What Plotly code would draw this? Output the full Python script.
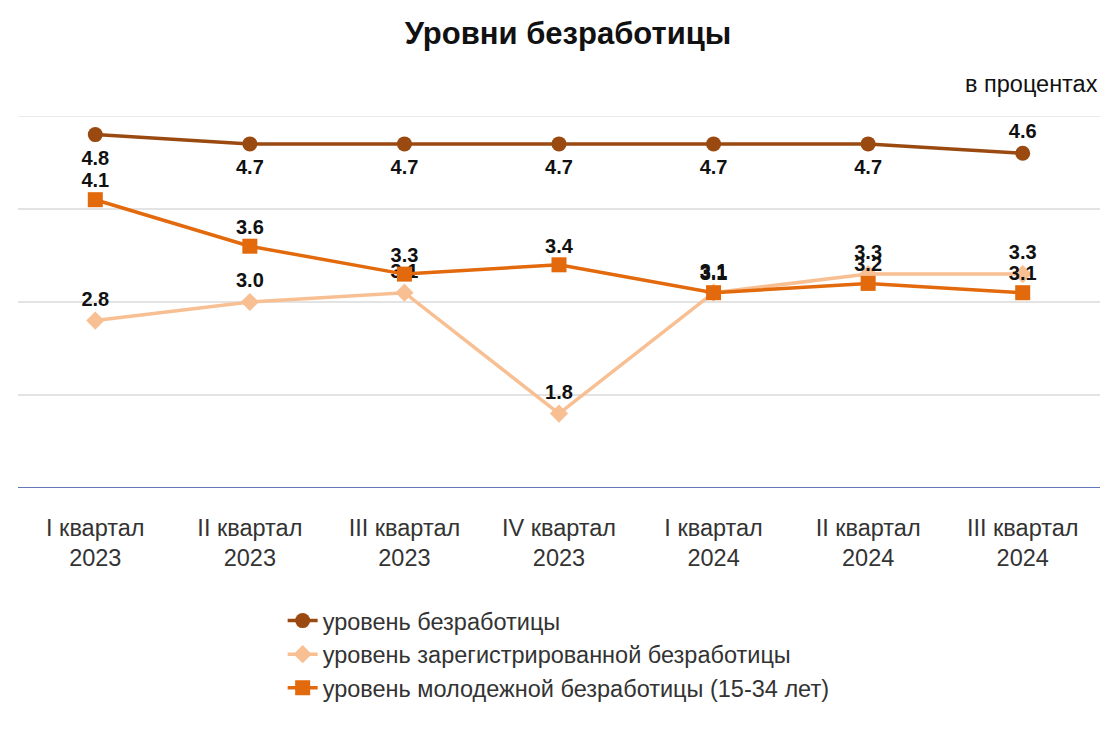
import plotly.graph_objects as go

# Data
quarters = ["I квартал<br>2023", "II квартал<br>2023", "III квартал<br>2023", "IV квартал<br>2023",
            "I квартал<br>2024", "II квартал<br>2024", "III квартал<br>2024"]
unemployment = [4.8, 4.7, 4.7, 4.7, 4.7, 4.7, 4.6]
registered = [2.8, 3.0, 3.1, 1.8, 3.1, 3.3, 3.3]
youth = [4.1, 3.6, 3.3, 3.4, 3.1, 3.2, 3.1]

unemp_pos = ["bottom center"] * 6 + ["top center"]
label_font = dict(family="Liberation Sans, Arial", size=20, color="#111111")

fig = go.Figure()

# Registered unemployment (drawn first, underneath)
fig.add_trace(go.Scatter(
    x=quarters, y=registered, name="уровень зарегистрированной безработицы",
    mode="lines+markers+text", legendrank=2,
    line=dict(color="#F8BF93", width=3.5),
    marker=dict(symbol="diamond", size=14, color="#F8BF93"),
    text=[f"<b>{v:.1f}</b>" for v in registered], textposition="top center",
    textfont=label_font,
))

# Youth unemployment
fig.add_trace(go.Scatter(
    x=quarters, y=youth, name="уровень молодежной безработицы (15-34 лет)",
    mode="lines+markers", legendrank=3,
    line=dict(color="#E2690C", width=3.5),
    marker=dict(symbol="square", size=15, color="#E2690C"),
))

# Unemployment
fig.add_trace(go.Scatter(
    x=quarters, y=unemployment, name="уровень безработицы",
    mode="lines+markers", legendrank=1,
    line=dict(color="#9A4A10", width=3.5),
    marker=dict(symbol="circle", size=15, color="#9A4A10"),
))

# Value labels (invisible markers set the label offset)
fig.add_trace(go.Scatter(
    x=quarters, y=youth, mode="markers+text", showlegend=False, hoverinfo="skip",
    marker=dict(size=10, opacity=0),
    text=[f"<b>{v:.1f}</b>" for v in youth], textposition="top center",
    textfont=label_font,
))
fig.add_trace(go.Scatter(
    x=quarters, y=unemployment, mode="markers+text", showlegend=False, hoverinfo="skip",
    marker=dict(size=[23] * 6 + [15], opacity=0),
    text=[f"<b>{v:.1f}</b>" for v in unemployment], textposition=unemp_pos,
    textfont=label_font,
))

fig.update_layout(
    width=1120, height=746,
    paper_bgcolor="white", plot_bgcolor="white",
    margin=dict(l=10, r=28, t=108, b=266),
    font=dict(family="Liberation Sans, Arial", color="#333333"),
    title=dict(text="<b>Уровни безработицы</b>", x=0.5, xanchor="center",
               yref="container", y=0.966, yanchor="middle",
               font=dict(size=31, color="#111111")),
    showlegend=True,
    legend=dict(orientation="v", x=0.2446, xanchor="left",
                yref="container", y=0.208, yanchor="top",
                font=dict(size=23.5, color="#333333"), tracegroupgap=0),
    annotations=[dict(text="в процентах", xref="paper", yref="paper", x=1.0, y=1.086,
                      xanchor="right", yanchor="middle", showarrow=False,
                      font=dict(size=23.5, color="#111111"))],
)

fig.update_xaxes(showgrid=False, showline=False, ticks="", zeroline=False, automargin=False,
                 tickfont=dict(size=23.5, color="#333333"), range=[-0.5, 6.5],
                 tickangle=0, ticklabelstandoff=23)
fig.update_yaxes(range=[1, 5], dtick=1, showticklabels=False, showgrid=True, automargin=False,
                 gridcolor="#E3E3E3", gridwidth=1.5, zeroline=False, showline=False)

# Top gridline and blue baseline
fig.add_shape(type="line", xref="paper", yref="y", x0=0, x1=1, y0=5, y1=5, layer="below",
              line=dict(color="#E3E3E3", width=1.5))
fig.add_shape(type="line", xref="paper", yref="y", x0=0, x1=1, y0=1, y1=1,
              line=dict(color="#2E4BA0", width=1.5))

fig.write_html("out.html")
